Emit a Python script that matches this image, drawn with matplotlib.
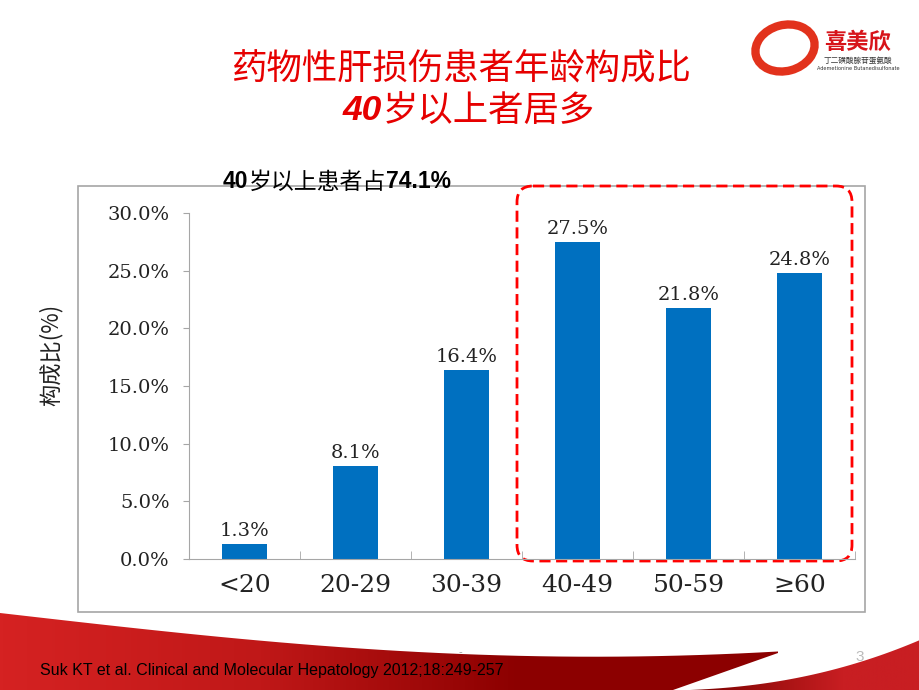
import numpy as np
import matplotlib
matplotlib.use('Agg')
import matplotlib.pyplot as plt
from matplotlib.patches import Rectangle, FancyBboxPatch, Polygon, Ellipse

categories = ['<20', '20-29', '30-39', '40-49', '50-59', '≥60']
values = [1.3, 8.1, 16.4, 27.5, 21.8, 24.8]
yticks = [0, 5, 10, 15, 20, 25, 30]
ytick_labels = ['%.1f%%' % t for t in yticks]

title1 = '药物性肝损伤患者年龄构成比'
title2_a = '40'
title2_b = '岁以上者居多'
note_parts = ['40', '岁以上患者占', '74.1%']
ylabel = '构成比(%)'
source = 'Suk KT et al. Clinical and Molecular Hepatology 2012;18:249-257'

CJK = ['Noto Sans CJK SC', 'DejaVu Sans']
LATIN = ['Liberation Sans', 'DejaVu Sans']
SERIF = 'DejaVu Serif'
RED = '#e60000'
BLUE = '#0070C0'
GRAY = '#a6a6a6'

fig = plt.figure(figsize=(9.2, 6.9), dpi=100)

# background layer in pixel coordinates
bg = fig.add_axes([0, 0, 1, 1], zorder=0)
bg.set_xlim(0, 920)
bg.set_ylim(690, 0)
bg.axis('off')


def gradient_patch(points, colors):
    poly = Polygon(points, closed=True, facecolor='none', edgecolor='none')
    bg.add_patch(poly)
    cmap = matplotlib.colors.LinearSegmentedColormap.from_list('g', colors)
    grad = np.linspace(0, 1, 256).reshape(1, -1)
    xs = [p[0] for p in points]
    ys = [p[1] for p in points]
    im = bg.imshow(grad, cmap=cmap, aspect='auto',
                   extent=[min(xs), max(xs), max(ys), min(ys)], zorder=1)
    im.set_clip_path(poly)


# bottom swooshes
t = np.linspace(0, 1, 40)
top1 = [(778 * s, 613 + 50 * np.sin(s * np.pi * 0.62) - 8 * s) for s in t]
sw1 = top1 + [(778, 653), (673, 690), (0, 690)]
gradient_patch(sw1, ['#d52222', '#c01818', '#8c0000', '#8c0000'])
top2 = [(690 + 230 * s, 690 - 10 * s - 40 * s ** 2.2) for s in t]
sw2 = top2 + [(920, 690)]
gradient_patch(sw2, ['#7a0000', '#a01010', '#c81e22', '#c81e22'])

# outer frame and highlight box
bg.add_patch(Rectangle((78, 186), 787, 426, facecolor='none',
                       edgecolor=GRAY, lw=1.2, zorder=2))
bg.add_patch(FancyBboxPatch((517, 186), 335, 375,
                            boxstyle='round,pad=0,rounding_size=16',
                            facecolor='none', edgecolor='#ff0000', lw=2,
                            linestyle=(0, (4, 2)), zorder=3))

# logo
bg.add_patch(Ellipse((785, 48), 60, 46, angle=-15, facecolor='none',
                     edgecolor='#e2321c', lw=6, zorder=2))
bg.text(858, 42, '喜美欣', family=CJK, fontweight='bold', fontsize=16,
        color='#d7141a', ha='center', va='center')
bg.text(858, 61, '丁二磺酸腺苷蛋氨酸', family=CJK, fontsize=5.5,
        color='#333333', ha='center', va='center')
bg.text(858, 68, 'Ademetionine Butanedisulfonate', fontsize=3.6,
        color='#333333', ha='center', va='center')

# titles
bg.text(462, 68, title1, family=CJK, fontsize=25.5, color=RED,
        ha='center', va='center', style='italic')
t2a = bg.text(343, 111, title2_a, family=LATIN,
              fontsize=25.5, fontweight='bold', style='italic', color=RED,
              ha='left', va='center')
bg.annotate(title2_b, xy=(1, 0.5), xycoords=t2a, family=CJK, fontsize=25.5,
            color=RED, ha='left', va='center')

n1 = bg.text(223, 182, note_parts[0], family=LATIN,
             fontsize=16.5, fontweight='bold', ha='left', va='center')
n2 = bg.annotate(note_parts[1], xy=(1, 0.5), xycoords=n1, family=CJK,
                 fontsize=16.5, ha='left', va='center')
bg.annotate(note_parts[2], xy=(1, 0.5), xycoords=n2, family=LATIN,
            fontsize=16.5, fontweight='bold', ha='left', va='center')

bg.text(40, 670, source, family='Liberation Sans', fontsize=11.5,
        color='black', ha='left', va='center')
bg.text(860, 657, '3', family='Liberation Sans', fontsize=11,
        color='#bbbbbb', ha='center', va='center')
bg.text(460, 652, '-', family='Liberation Sans', fontsize=8,
        color='#999999', ha='center', va='center')

# main chart
ax = fig.add_axes([189 / 920, 1 - 559 / 690, 666 / 920, 346 / 690], zorder=1)
ax.patch.set_alpha(0)
x = np.arange(len(categories))
ax.bar(x, values, width=0.4, color=BLUE, zorder=2)
for xi, v in zip(x, values):
    ax.text(xi, v + 0.35, '%.1f%%' % v, ha='center', va='bottom',
            family=SERIF, fontsize=14, color='#222222')

ax.set_xlim(-0.5, len(categories) - 0.5)
ax.set_ylim(0, 30)
ax.set_yticks(yticks)
ax.set_yticklabels(ytick_labels, family=SERIF, fontsize=14, color='#222222')
ax.set_xticks(x)
ax.set_xticklabels(categories, family=SERIF, fontsize=18, color='#222222')
ax.set_xticks(np.arange(len(categories) + 1) - 0.5, minor=True)
ax.tick_params(axis='x', which='major', length=0, pad=11)
ax.tick_params(axis='x', which='minor', direction='in', length=6,
               color=GRAY)
ax.tick_params(axis='y', direction='out', length=4, color=GRAY, pad=10)
for s in ['top', 'right']:
    ax.spines[s].set_visible(False)
for s in ['left', 'bottom']:
    ax.spines[s].set_color(GRAY)
ax.set_ylabel(ylabel, family=CJK, fontsize=16, color='#222222')
ax.yaxis.set_label_coords(-0.19, 0.59)

fig.savefig('out.png', dpi=100)
